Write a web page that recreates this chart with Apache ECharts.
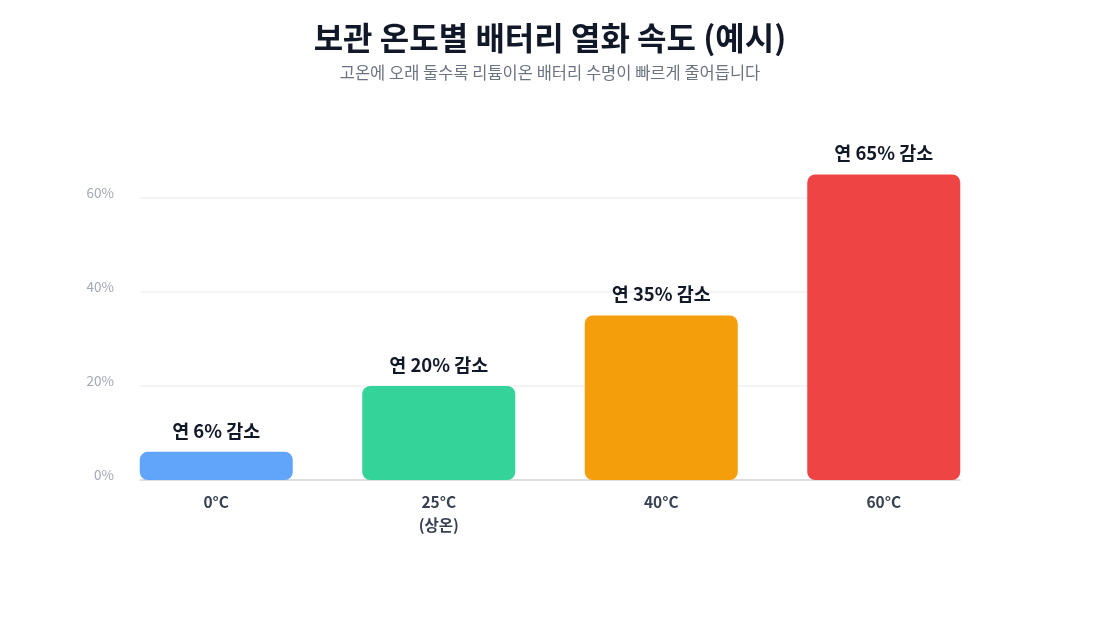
<!DOCTYPE html>
<html>
<head>
<meta charset="utf-8">
<script src="https://cdn.jsdelivr.net/npm/echarts@6/dist/echarts.min.js"></script>
<style>
  html, body { margin: 0; padding: 0; background: #fff; }
  #chart { width: 1100px; height: 620px; }
</style>
</head>
<body>
<div id="chart"></div>
<script>
const categories = ['0°C', '25°C\n(상온)', '40°C', '60°C']
const lossValues = [6, 20, 35, 65]
const barColors = ['#60a5fa', '#34d399', '#f59e0b', '#ef4444']
const yTicks = [0, 20, 40, 60]

const font = '"Noto Sans CJK KR", "Noto Sans", sans-serif'

let myChart = echarts.init(document.getElementById('chart'))

// grid 0 carries the value axis, split lines and base line;
// grid 1 is a bit wider so the outer bars sit flush with the axis ends
let option = {
    backgroundColor: '#ffffff',
    textStyle: { fontFamily: font },
    title: {
        text: '보관 온도별 배터리 열화 속도 (예시)',
        subtext: '고온에 오래 둘수록 리튬이온 배터리 수명이 빠르게 줄어듭니다',
        left: 'center',
        top: 17,
        itemGap: 10,
        textStyle: { fontSize: 32, fontWeight: 'bold', color: '#111827', fontFamily: font },
        subtextStyle: { fontSize: 16.5, color: '#6b7280', fontFamily: font }
    },
    grid: [
        { left: 140, right: 140, top: 151, bottom: 140 },
        { left: 105, right: 105, top: 151, bottom: 140 }
    ],
    xAxis: [{
        gridIndex: 0,
        type: 'category',
        data: categories,
        axisLine: { lineStyle: { color: '#d1d5db', width: 1.5 } },
        axisTick: { show: false },
        axisLabel: { show: false }
    }, {
        gridIndex: 1,
        type: 'category',
        data: categories,
        axisLine: { show: false },
        axisTick: { show: false },
        axisLabel: {
            margin: 11,
            fontSize: 15.5,
            fontWeight: 'bold',
            color: '#374151',
            lineHeight: 23,
            fontFamily: font
        }
    }],
    yAxis: [{
        gridIndex: 0,
        type: 'value',
        min: 0,
        max: 70,
        interval: 20,
        axisLine: { show: false },
        axisTick: { show: false },
        axisLabel: {
            margin: 26,
            fontSize: 13.5,
            color: '#a3a8b3',
            verticalAlign: 'bottom',
            lineHeight: 11,
            formatter: v => yTicks.includes(v) ? v + '%' : '',
            fontFamily: font
        },
        splitLine: { showMaxLine: false, lineStyle: { color: '#f0f1f3', width: 1.5 } }
    }, {
        gridIndex: 1,
        type: 'value',
        min: 0,
        max: 70,
        show: false
    }],
    series: [{
        type: 'bar',
        xAxisIndex: 1,
        yAxisIndex: 1,
        data: lossValues.map((v, i) => ({ value: v, itemStyle: { color: barColors[i] } })),
        barWidth: 153,
        itemStyle: { borderRadius: 8 },
        label: {
            show: true,
            position: 'top',
            distance: 12,
            fontSize: 18.5,
            fontWeight: 'bold',
            color: '#111827',
            fontFamily: font,
            formatter: p => `연 ${p.value}% 감소`
        }
    }]
}

myChart.setOption(option)
</script>
</body>
</html>
